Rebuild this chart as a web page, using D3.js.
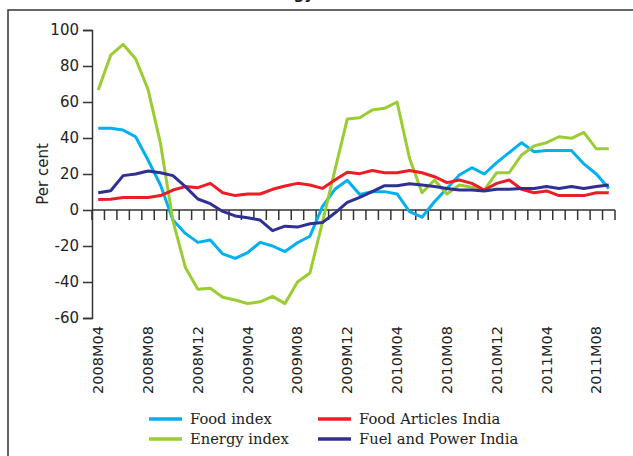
<!DOCTYPE html>
<html>
<head>
<meta charset="utf-8">
<script src="https://cdn.jsdelivr.net/npm/d3@7"></script>
<style>
  body { margin: 0; background: #fff; }
  svg { display: block; }
</style>
</head>
<body>
<div id="chart"></div>
<script>
const months = [
  "2008M04","2008M05","2008M06","2008M07","2008M08","2008M09","2008M10","2008M11","2008M12",
  "2009M01","2009M02","2009M03","2009M04","2009M05","2009M06","2009M07","2009M08","2009M09","2009M10","2009M11","2009M12",
  "2010M01","2010M02","2010M03","2010M04","2010M05","2010M06","2010M07","2010M08","2010M09","2010M10","2010M11","2010M12",
  "2011M01","2011M02","2011M03","2011M04","2011M05","2011M06","2011M07","2011M08","2011M09"
];
const tickLabels = ["2008M04","2008M08","2008M12","2009M04","2009M08","2009M12","2010M04","2010M08","2010M12","2011M04","2011M08"];
const yTicks = [-60, -40, -20, 0, 20, 40, 60, 80, 100];

const foodIndex = [45.4, 45.4, 44.4, 40.7, 27.8, 13.9, -5.6, -13, -18, -16.7, -24.4, -26.9, -23.7, -18, -20, -23.1,
  -18.2, -14.6, 1.9, 11.5, 16.5, 8.6, 10.2, 10.2, 8.9, -0.9, -4, 4.6, 12, 19.4, 23.5, 20, 26.3, 31.9, 37.4, 32.4,
  33, 33, 33, 25.6, 20, 12];
const energyIndex = [66.7, 86, 92, 84, 67, 37, -6, -32, -44, -43.5, -48.5, -50, -52, -51, -48, -52,
  -40, -35, -7, 22, 50.5, 51.3, 55.6, 56.5, 60, 28.7, 9.6, 16.7, 8.9, 13.9, 12.6, 11, 20.7, 20.7, 30.6, 35.6,
  37.4, 40.7, 39.8, 43.1, 34, 34];
const foodArticles = [5.9, 6, 6.9, 6.9, 6.9, 8, 11.1, 13, 12.4, 14.8, 9.6, 8, 8.9, 8.9, 11.5, 13.3,
  14.8, 13.9, 12, 16.7, 21, 20.2, 21.9, 20.7, 20.7, 21.9, 20.7, 18.5, 15.2, 16.7, 14.8, 11.1, 14.8, 16.7, 11.5, 9.6,
  10.6, 8, 8, 8, 9.6, 9.6];
const fuelPower = [9.6, 10.7, 19.1, 20, 21.7, 20.7, 19.1, 13, 6.1, 3.5, -0.8, -3.3, -4.3, -5.6, -11.5, -9,
  -9.5, -7.6, -7, -1.7, 4.2, 7, 10.2, 13.5, 13.5, 14.6, 13.9, 13, 12, 11.1, 11.1, 10.6, 11.5, 11.5, 12, 12,
  13, 12, 13, 12, 13, 13.9];

const series = [
  { name: "Food index", values: foodIndex, color: "#00b0f0" },
  { name: "Energy index", values: energyIndex, color: "#9acd32" },
  { name: "Food Articles India", values: foodArticles, color: "#ee1c25" },
  { name: "Fuel and Power India", values: fuelPower, color: "#2e3192" }
];

const width = 633, height = 456;
const axisColor = "#333";

const svg = d3.select("#chart").append("svg")
  .attr("width", width)
  .attr("height", height);

// title sits above the crop, only its descenders show
svg.append("text")
  .attr("x", 314).attr("y", -1)
  .attr("text-anchor", "end")
  .style("font-family", "DejaVu Sans")
  .style("font-weight", "bold")
  .style("font-size", "15px")
  .attr("fill", "#222")
  .text("Food and Energy");

// frame
svg.append("path")
  .attr("d", "M8,456V10H633")
  .attr("fill", "none")
  .attr("stroke", axisColor)
  .attr("stroke-width", 1.5);

const x = d3.scaleBand().domain(months).range([92, 615]).padding(0);
const y = d3.scaleLinear().domain([-60, 100]).range([318, 30]);

// y axis
const yAxis = svg.append("g")
  .attr("transform", "translate(92,0)")
  .call(d3.axisLeft(y).tickValues(yTicks).tickSize(9).tickPadding(4).tickFormat(d => String(d)));
yAxis.select(".domain").attr("stroke", axisColor).attr("stroke-width", 1.5);
yAxis.selectAll(".tick line").attr("stroke", axisColor).attr("stroke-width", 1.5);
yAxis.selectAll(".tick text")
  .style("font-family", "DejaVu Sans")
  .style("font-size", "15px")
  .attr("fill", "#222");

svg.append("text")
  .attr("transform", "translate(48,174) rotate(-90)")
  .attr("text-anchor", "middle")
  .style("font-family", "DejaVu Sans")
  .style("font-size", "15px")
  .attr("fill", "#222")
  .text("Per cent");

// x axis at zero, ticks on month boundaries
const xAxis = svg.append("g").attr("transform", `translate(0,${y(0)})`);
xAxis.append("line")
  .attr("x1", x.range()[0]).attr("x2", x.range()[1])
  .attr("stroke", axisColor).attr("stroke-width", 1.5);
const bounds = months.map(m => x(m)).concat([x.range()[1]]);
xAxis.selectAll(".bound")
  .data(bounds)
  .enter().append("line")
  .attr("class", "bound")
  .attr("x1", d => d).attr("x2", d => d)
  .attr("y1", 0).attr("y2", 10)
  .attr("stroke", axisColor).attr("stroke-width", 1.5);

svg.selectAll(".xlab")
  .data(tickLabels)
  .enter().append("text")
  .attr("class", "xlab")
  .attr("transform", d => `translate(${x(d) + x.bandwidth() / 2 + 5},326) rotate(-90)`)
  .attr("text-anchor", "end")
  .style("font-family", "DejaVu Sans")
  .style("font-size", "14.5px")
  .attr("fill", "#222")
  .text(d => d);

// lines
const line = d3.line()
  .x((d, i) => x(months[i]) + x.bandwidth() / 2)
  .y(d => y(d));

svg.selectAll(".series")
  .data(series)
  .enter().append("path")
  .attr("class", "series")
  .attr("d", d => line(d.values))
  .attr("fill", "none")
  .attr("stroke", d => d.color)
  .attr("stroke-width", 3)
  .attr("stroke-linejoin", "round");

// legend
const legendPos = [
  { x: 149, y: 419 }, { x: 149, y: 439 }, { x: 318, y: 419 }, { x: 318, y: 439 }
];
const legend = svg.selectAll(".legend")
  .data(series)
  .enter().append("g")
  .attr("class", "legend")
  .attr("transform", (d, i) => `translate(${legendPos[i].x},${legendPos[i].y})`);
legend.append("line")
  .attr("x1", 0).attr("x2", 33)
  .attr("stroke", d => d.color)
  .attr("stroke-width", 3.5);
legend.append("text")
  .attr("x", 41).attr("y", 5)
  .style("font-family", "DejaVu Serif")
  .style("font-size", "14.7px")
  .attr("fill", "#222")
  .text(d => d.name);
</script>
</body>
</html>
